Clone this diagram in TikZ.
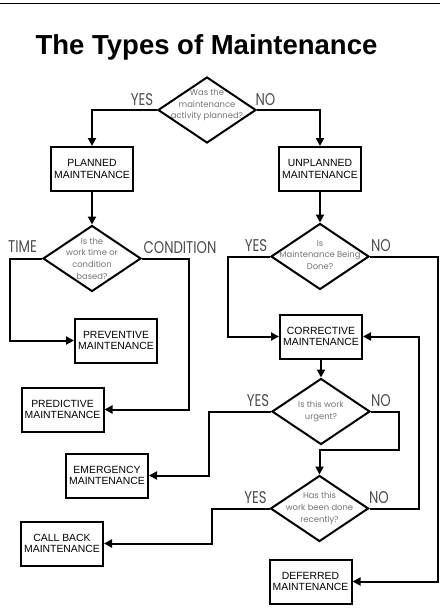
\documentclass[tikz,border=0pt]{standalone}
\usepackage{fontspec}
\setmainfont{Liberation Sans}
\newfontfamily\askfont{Poppins}
\newfontfamily\tagfont[FakeStretch=0.78]{Poppins}
\usetikzlibrary{shapes.geometric,arrows.meta}

\begin{document}
\begin{tikzpicture}[x=1pt, y=-1pt, line width=2pt,
  kind/.style={draw, minimum width=82pt, minimum height=44pt, inner sep=1pt,
    align=center, font=\fontsize{10.4}{11.7}\selectfont},
  ask/.style={draw, diamond, minimum width=98pt, minimum height=66pt, inner sep=0pt},
  asktext/.style={align=center, text=black!55, inner sep=0pt,
    font=\askfont\fontsize{8.4}{11.7}\selectfont},
  tag/.style={text=black!70, inner sep=0pt, font=\tagfont\fontsize{17}{17}\selectfont},
  flow/.style={-{Triangle[length=8pt,width=8pt]}},
]
\useasboundingbox (0,0) rectangle (446,616);
\draw[line width=1pt] (0,3.3) -- (440,3.3);

\node[font=\bfseries\fontsize{27.5}{30}\selectfont, anchor=base] (title)
  at (206.5,54) {The Types of Maintenance};

% questions
\node[ask] (q1) at (207,110) {};
\node[asktext] (q1t) at ([yshift=5pt]q1) {Was the\\maintenance\\activity planned?};
\node[ask] (q2) at (92,258.5) {};
\node[asktext] (q2t) at (q2) {Is the\\work time or\\condition\\based?};
\node[ask] (q3) at (320,256.5) {};
\node[asktext] (q3t) at ([yshift=1.5pt]q3) {Is\\Maintenance Being\\Done?};
\node[ask] (q4) at (321,411.5) {};
\node[asktext] (q4t) at (q4) {Is this work\\urgent?};
\node[ask] (q5) at (319.5,508.5) {};
\node[asktext] (q5t) at (q5) {Has this\\work been done\\recently?};

% kinds of maintenance
\node[kind] (planned) at (92,169) {PLANNED\\MAINTENANCE};
\node[kind] (unplanned) at (320,169) {UNPLANNED\\MAINTENANCE};
\node[kind] (preventive) at (116,340.5) {PREVENTIVE\\MAINTENANCE};
\node[kind] (predictive) at (62.5,409.5) {PREDICTIVE\\MAINTENANCE};
\node[kind] (corrective) at (321,336.5) {CORRECTIVE\\MAINTENANCE};
\node[kind] (emergency) at (107,475.5) {EMERGENCY\\MAINTENANCE};
\node[kind] (callback) at (62,543.5) {CALL BACK\\MAINTENANCE};
\node[kind] (deferred) at (310.5,581.5) {DEFERRED\\MAINTENANCE};

% answers
\node[tag] (yes1) at (142,100) {YES};
\node[tag] (no1) at (265.5,100) {NO};
\node[tag] (time) at (22.5,246.5) {TIME};
\node[tag] (condition) at (180,248) {CONDITION};
\node[tag] (yes3) at (256,245.5) {YES};
\node[tag] (no3) at (381,245.5) {NO};
\node[tag] (yes4) at (258,401) {YES};
\node[tag] (no4) at (381,401) {NO};
\node[tag] (yes5) at (255.5,497.5) {YES};
\node[tag] (no5) at (379,497.5) {NO};

% connectors
\draw[flow] (q1.west) -| (planned.north);
\draw[flow] (q1.east) -| (unplanned.north);
\draw[flow] (planned) -- (q2);
\draw[flow] (unplanned) -- (q3);
\draw[flow] (q2.west) -- ++(-32,0) |- (preventive.west);
\draw[flow] (q2.east) -- ++(47,0) |- (predictive.east);
\draw[flow] (q3.west) -- ++(-42,0) |- (corrective.west);
\draw[flow] (q3.east) -- ++(67.5,0) |- (deferred.east);
\draw[flow] (corrective) -- (q4);
\draw[flow] (q4.west) -- ++(-62.5,0) |- (emergency.east);
\draw[flow] (q4.east) -- ++(27.5,0) -- ++(0,38.5) -| (q5.north);
\draw[flow] (q5.west) -- ++(-57.5,0) |- (callback.east);
\draw[flow] (q5.east) -- ++(49.5,0) |- (corrective.east);
\end{tikzpicture}
\end{document}
